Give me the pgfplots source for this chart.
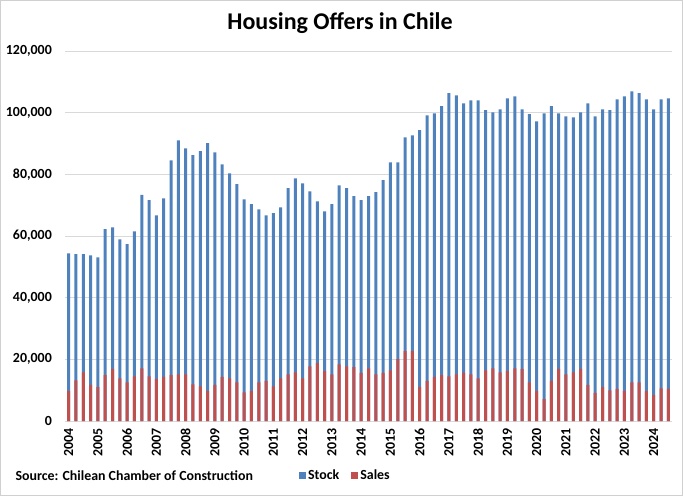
\documentclass[border=0pt]{standalone}
\usepackage{pgfplots}
\pgfplotsset{compat=1.18}
\usepackage{pgfplotstable}
\usepackage{fontspec}
\setmainfont{Carlito}

\definecolor{stockblue}{HTML}{4F81BD}
\definecolor{salesred}{HTML}{C0504D}
\definecolor{gridgray}{HTML}{D9D9D9}
\definecolor{framegray}{HTML}{D0D0D0}

\newcommand{\lblfont}{\bfseries\fontsize{13.9}{16}\selectfont}

% Quarterly housing offers, 2004 Q1 to 2024 Q3 (units)
\pgfplotstableread{
q stock sales
0 54400 9700
1 54100 13200
2 54100 15800
3 53700 11700
4 53100 11000
5 62200 14900
6 62800 16900
7 58900 13800
8 57400 12500
9 61500 14500
10 73300 17100
11 71600 14500
12 66700 13600
13 72200 14300
14 84500 14900
15 91000 15100
16 88400 15100
17 86200 11900
18 87500 11200
19 90100 9700
20 87100 11700
21 83200 14300
22 80300 13800
23 76800 12500
24 71900 9300
25 70300 9700
26 68600 12500
27 66700 13000
28 67400 11200
29 69300 13800
30 75500 15100
31 78700 15800
32 77100 13800
33 74500 17700
34 71200 18800
35 68000 16200
36 70300 15100
37 76400 18400
38 75500 17700
39 72900 17500
40 71600 15600
41 72900 17100
42 74200 15100
43 78100 15600
44 83900 16400
45 83900 20100
46 92000 22700
47 92600 22700
48 94300 11000
49 99100 13000
50 99800 14300
51 102100 14900
52 106300 14500
53 105600 15100
54 103000 15600
55 104000 15100
56 104000 13800
57 100800 16400
58 100100 17100
59 101100 15800
60 104600 16200
61 105300 17100
62 101100 16900
63 99500 12500
64 97200 9700
65 99800 7100
66 102100 13000
67 99800 16900
68 98800 15100
69 98500 15800
70 100100 16900
71 103000 11700
72 98800 9100
73 101100 11000
74 100800 9900
75 104300 10400
76 105300 9700
77 106900 12500
78 106300 12500
79 104300 9700
80 101100 8400
81 104300 10600
82 104600 10400
}\offers

\begin{document}
\begin{tikzpicture}
\useasboundingbox (0pt,0pt) rectangle (683pt,496pt);
\draw[framegray, line width=1pt] (0.5pt,0.5pt) rectangle (682.5pt,495.5pt);

\node[font=\bfseries\fontsize{24}{28}\selectfont] at (340pt,473pt) {Housing Offers in Chile};
\node[anchor=base west, font=\lblfont] at (12pt,16pt) {Source: Chilean Chamber of Construction};

\begin{axis}[
  at={(65pt,75pt)}, anchor=south west,
  scale only axis, width=607pt, height=370pt,
  xmin=-0.5, xmax=82.5,
  ymin=0, ymax=120000,
  ytick={0,20000,40000,60000,80000,100000,120000},
  yticklabels={0,{20,000},{40,000},{60,000},{80,000},{100,000},{120,000}},
  xtick={0,4,...,80},
  xticklabels={2004,2005,2006,2007,2008,2009,2010,2011,2012,2013,2014,2015,2016,2017,2018,2019,2020,2021,2022,2023,2024},
  scaled y ticks=false,
  major tick length=0pt,
  axis line style={draw=none},
  ymajorgrids, grid style={gridgray, line width=0.8pt},
  tick label style={font=\lblfont, inner sep=0pt},
  x tick label style={rotate=90, anchor=east},
  xticklabel shift=7pt,
  yticklabel shift=13pt,
  legend style={at={(0.462,-0.146)}, anchor=center, draw=none, fill=none,
    legend columns=2, font=\lblfont,
    /tikz/every even column/.append style={column sep=10pt}},
  legend image code/.code={\fill[#1] (0pt,-3.5pt) rectangle (7pt,3.5pt);},
]
\addplot[ybar, bar width=3pt, bar shift=0pt, fill=stockblue, draw=none] table[x=q, y=stock] {\offers};
\addlegendentry{\lblfont Stock}
\addplot[ybar, bar width=3pt, bar shift=0pt, fill=salesred, draw=none] table[x=q, y=sales] {\offers};
\addlegendentry{\lblfont Sales}
\end{axis}
\end{tikzpicture}
\end{document}
